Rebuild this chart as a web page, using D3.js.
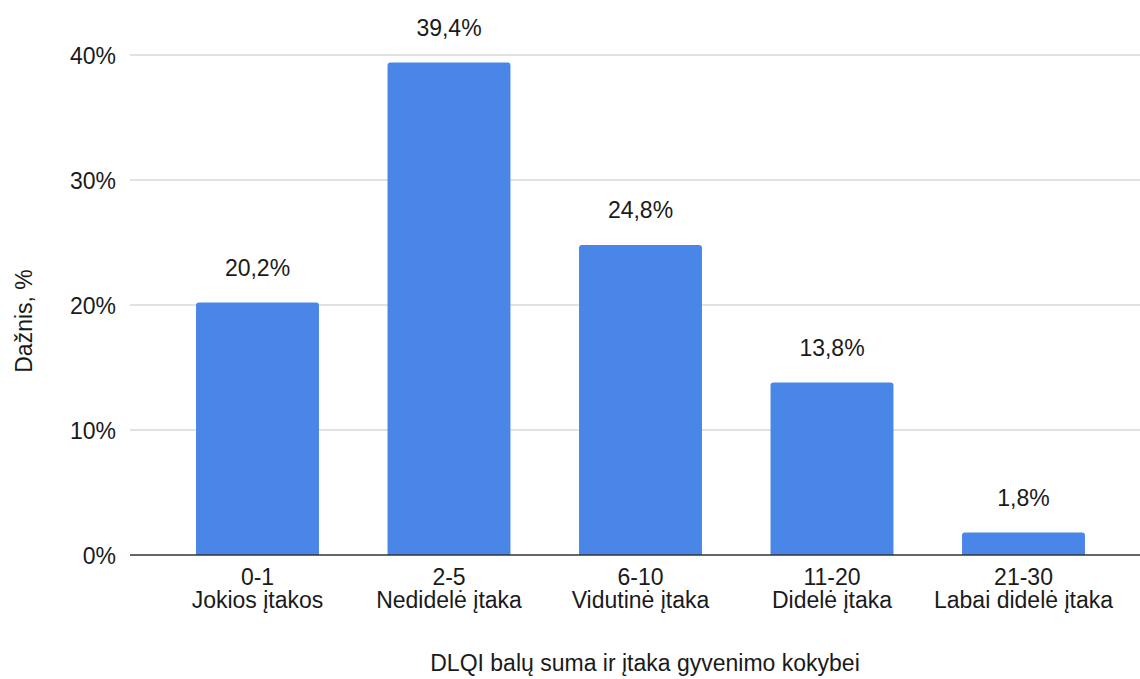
<!DOCTYPE html>
<html>
<head>
<meta charset="utf-8">
<script src="https://cdn.jsdelivr.net/npm/d3@7"></script>
<style>
  html, body { margin: 0; padding: 0; background: #ffffff; }
  svg text { font-family: "Liberation Sans", Arial, Helvetica, sans-serif; fill: #1a1a1a; }
</style>
</head>
<body>
<svg id="chart" width="1140" height="679"></svg>
<script>
// DLQI score ranges and their impact on quality of life
const scoreRanges = ["0-1", "2-5", "6-10", "11-20", "21-30"];
const impactLabels = ["Jokios įtakos", "Nedidelė įtaka", "Vidutinė įtaka", "Didelė įtaka", "Labai didelė įtaka"];
const frequency = [20.2, 39.4, 24.8, 13.8, 1.8];
const yTicks = [0, 10, 20, 30, 40];

const fmt = v => v.toFixed(1).replace(".", ",") + "%";
const FS = 23;

const svg = d3.select("#chart");
const plot = { left: 130, right: 1140, top: 55, bottom: 555 };

const x = d3.scaleBand()
  .domain(scoreRanges)
  .range([161.75, 1119.25])
  .paddingInner(0.358)
  .paddingOuter(0.179);

const y = d3.scaleLinear().domain([0, 40]).range([plot.bottom, plot.top]);

// horizontal gridlines
svg.append("g")
  .selectAll("line")
  .data(yTicks.filter(t => t !== 0))
  .join("line")
  .attr("x1", plot.left).attr("x2", plot.right)
  .attr("y1", d => y(d)).attr("y2", d => y(d))
  .attr("stroke", "#d9d9d9").attr("stroke-width", 1.5);

// y tick labels
const yAxis = d3.axisLeft(y).tickValues(yTicks).tickFormat(d => d + "%").tickSize(0).tickPadding(0);
const yg = svg.append("g").attr("transform", `translate(116,0)`).call(yAxis);
yg.select(".domain").remove();
yg.selectAll("text")
  .attr("font-size", FS)
  .attr("fill", "#1a1a1a")
  .style("font-family", "'Liberation Sans', Arial, sans-serif")
  .attr("dy", "0.35em");

// bars with slightly rounded top corners
const r = 3;
svg.append("g")
  .selectAll("path")
  .data(frequency)
  .join("path")
  .attr("fill", "#4a86e8")
  .attr("d", (d, i) => {
    const x0 = x(scoreRanges[i]), w = x.bandwidth();
    const yt = y(d), yb = y(0);
    return `M${x0},${yb} V${yt + r} Q${x0},${yt} ${x0 + r},${yt} H${x0 + w - r} Q${x0 + w},${yt} ${x0 + w},${yt + r} V${yb} Z`;
  });

// baseline
svg.append("line")
  .attr("x1", plot.left).attr("x2", plot.right)
  .attr("y1", y(0)).attr("y2", y(0))
  .attr("stroke", "#333333").attr("stroke-width", 1.5);

// value labels
svg.append("g")
  .selectAll("text")
  .data(frequency)
  .join("text")
  .attr("x", (d, i) => x(scoreRanges[i]) + x.bandwidth() / 2)
  .attr("y", d => y(d) - 27)
  .attr("text-anchor", "middle")
  .attr("font-size", FS)
  .text(d => fmt(d));

// category labels (two lines)
const cat = svg.append("g")
  .selectAll("text")
  .data(scoreRanges)
  .join("text")
  .attr("text-anchor", "middle")
  .attr("font-size", FS)
  .attr("transform", d => `translate(${x(d) + x.bandwidth() / 2},0)`);
cat.append("tspan").attr("x", 0).attr("y", 585).text(d => d);
cat.append("tspan").attr("x", 0).attr("y", 608).text((d, i) => impactLabels[i]);

// axis titles
svg.append("text")
  .attr("x", 645).attr("y", 671)
  .attr("text-anchor", "middle")
  .attr("font-size", FS)
  .text("DLQI balų suma ir įtaka gyvenimo kokybei");

svg.append("text")
  .attr("transform", "translate(32,321) rotate(-90)")
  .attr("text-anchor", "middle")
  .attr("font-size", FS)
  .text("Dažnis, %");
</script>
</body>
</html>
